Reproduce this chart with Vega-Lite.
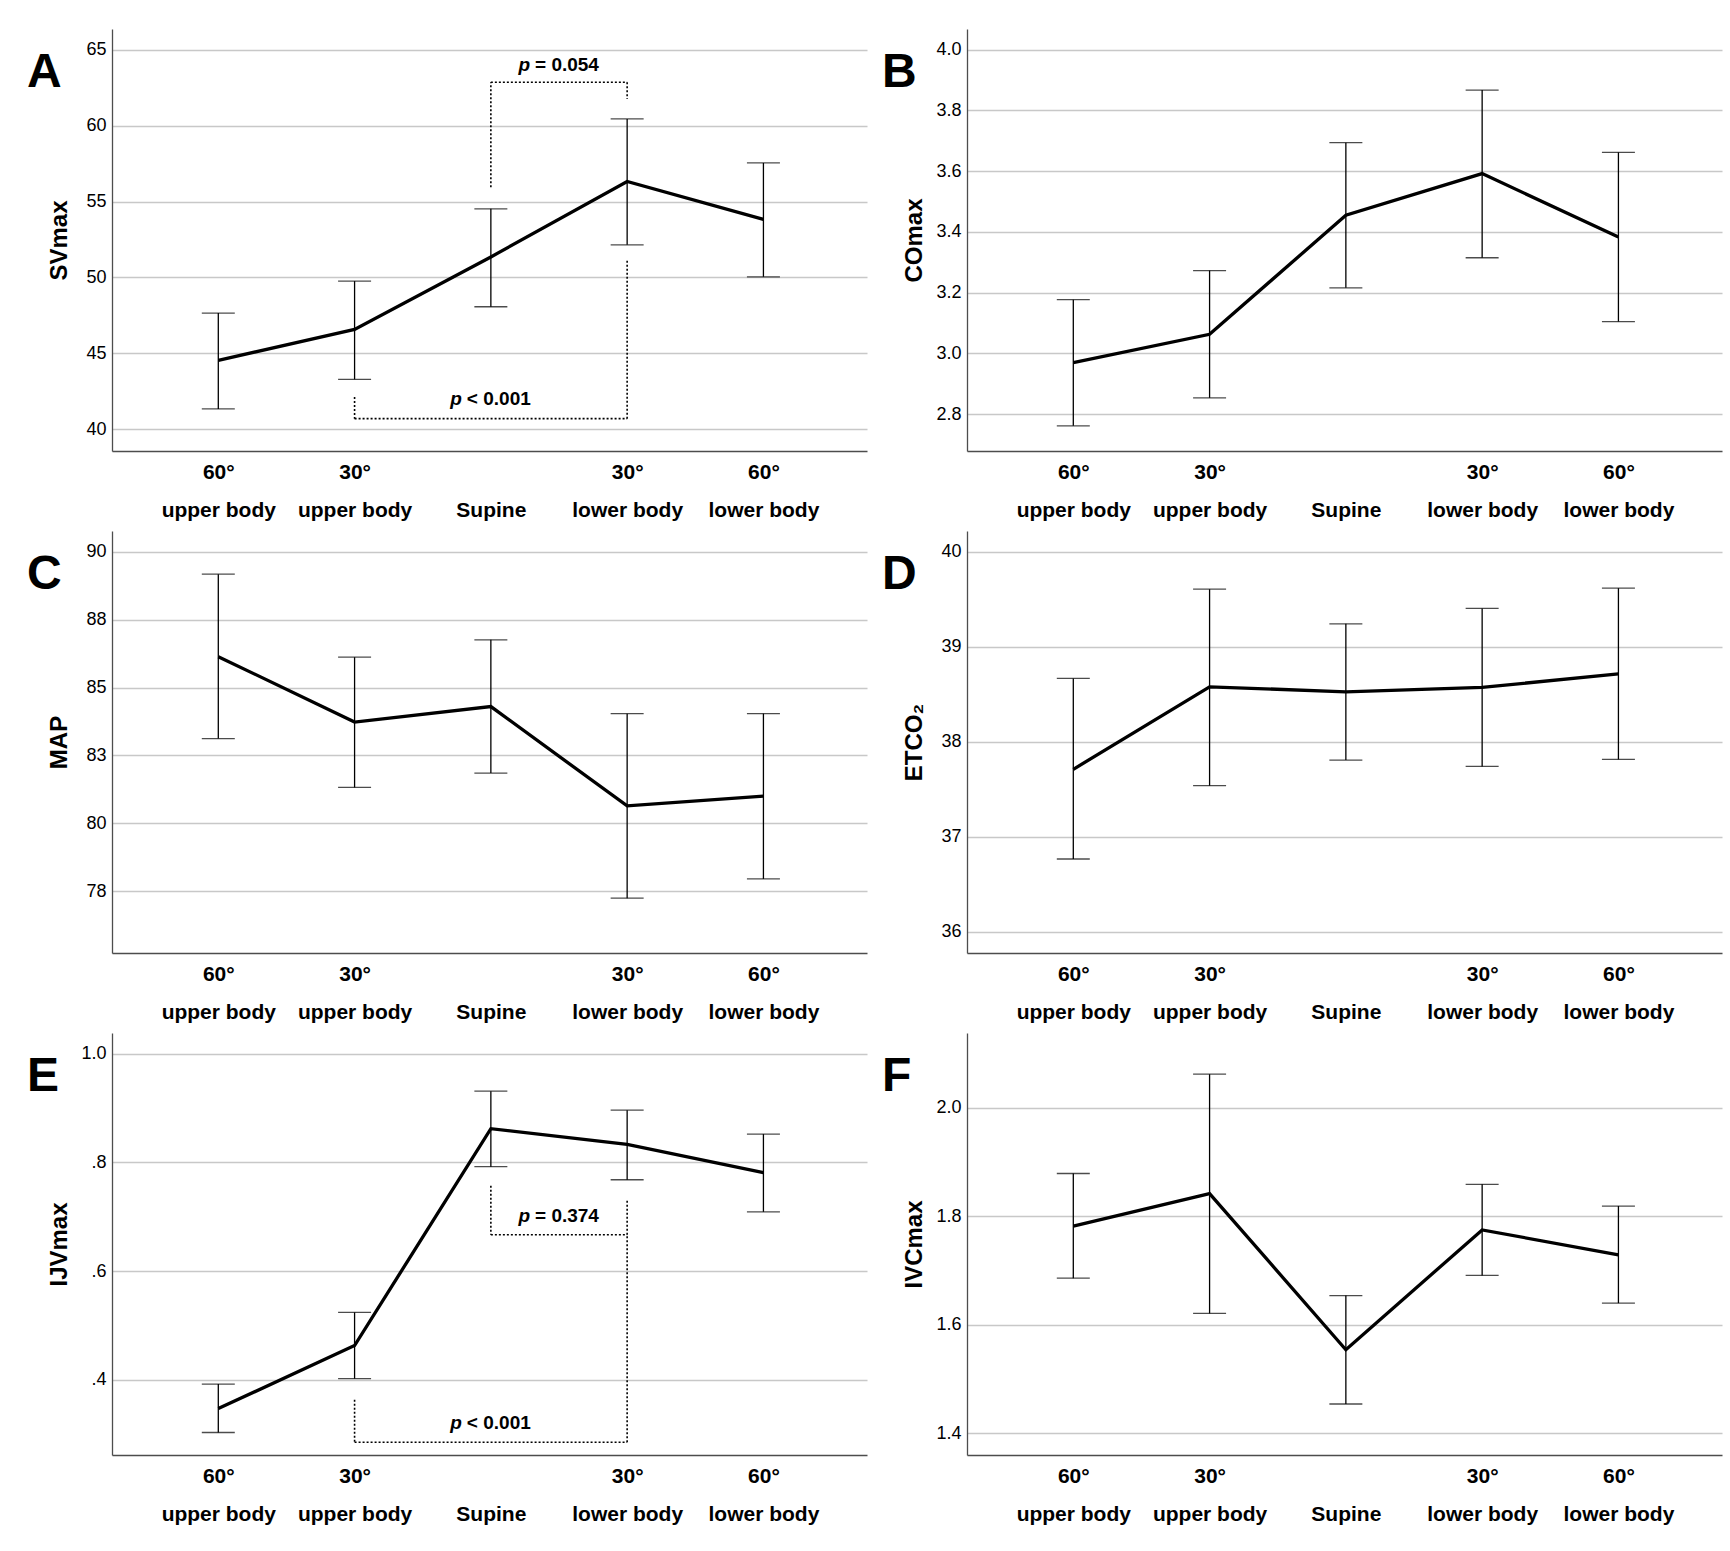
{
"$schema": "https://vega.github.io/schema/vega-lite/v6.json",
"background": "white",
"padding": {"left": 27, "top": 29, "right": 5, "bottom": 5},
"autosize": {"type": "pad"},
"config": {
  "view": {"stroke": null},
  "font": "Liberation Sans",
  "axis": {"domainColor": "#4d4d4d", "domainWidth": 1.3, "ticks": false, "tickSize": 0, "labelColor": "black", "titleColor": "black", "labelFont": "Liberation Sans", "titleFont": "Liberation Sans"},
  "axisY": {"gridColor": "#c8c8c8", "gridWidth": 1.3, "labelFontSize": 18, "labelPadding": 6, "titleFontSize": 24, "titleFontWeight": "bold", "minExtent": 28, "maxExtent": 28, "titlePadding": 13},
  "axisX": {"grid": false, "labelFontSize": 21, "labelFontWeight": "bold", "labelPadding": 10, "labelLineHeight": 38.5, "labelFlush": false, "labelOverlap": false, "labelBound": false},
  "title": {"anchor": "start", "frame": "group", "offset": -68, "dx": -85, "fontSize": 48, "fontWeight": "bold", "baseline": "alphabetic", "color": "black", "font": "Liberation Sans"}
},
"datasets": {
  "pts": [
    {"panel": "A", "pos": 1, "mean": 44.54, "lo": 41.34, "hi": 47.65},
    {"panel": "A", "pos": 2, "mean": 46.58, "lo": 43.29, "hi": 49.76},
    {"panel": "A", "pos": 3, "mean": 51.35, "lo": 48.07, "hi": 54.52},
    {"panel": "A", "pos": 4, "mean": 56.32, "lo": 52.15, "hi": 60.44},
    {"panel": "A", "pos": 5, "mean": 53.82, "lo": 50.04, "hi": 57.54},
    {"panel": "B", "pos": 1, "mean": 2.97, "lo": 2.762, "hi": 3.177},
    {"panel": "B", "pos": 2, "mean": 3.063, "lo": 2.854, "hi": 3.273},
    {"panel": "B", "pos": 3, "mean": 3.455, "lo": 3.216, "hi": 3.694},
    {"panel": "B", "pos": 4, "mean": 3.592, "lo": 3.315, "hi": 3.867},
    {"panel": "B", "pos": 5, "mean": 3.383, "lo": 3.105, "hi": 3.662},
    {"panel": "C", "pos": 1, "mean": 86.14, "lo": 83.12, "hi": 89.18},
    {"panel": "C", "pos": 2, "mean": 83.73, "lo": 81.32, "hi": 86.12},
    {"panel": "C", "pos": 3, "mean": 84.3, "lo": 81.85, "hi": 86.76},
    {"panel": "C", "pos": 4, "mean": 80.64, "lo": 77.24, "hi": 84.04},
    {"panel": "C", "pos": 5, "mean": 81.0, "lo": 77.95, "hi": 84.04},
    {"panel": "D", "pos": 1, "mean": 37.71, "lo": 36.765, "hi": 38.667},
    {"panel": "D", "pos": 2, "mean": 38.579, "lo": 37.537, "hi": 39.607},
    {"panel": "D", "pos": 3, "mean": 38.526, "lo": 37.807, "hi": 39.242},
    {"panel": "D", "pos": 4, "mean": 38.572, "lo": 37.74, "hi": 39.404},
    {"panel": "D", "pos": 5, "mean": 38.716, "lo": 37.814, "hi": 39.618},
    {"panel": "E", "pos": 1, "mean": 0.347, "lo": 0.303, "hi": 0.392},
    {"panel": "E", "pos": 2, "mean": 0.463, "lo": 0.402, "hi": 0.524},
    {"panel": "E", "pos": 3, "mean": 0.862, "lo": 0.792, "hi": 0.931},
    {"panel": "E", "pos": 4, "mean": 0.833, "lo": 0.768, "hi": 0.896},
    {"panel": "E", "pos": 5, "mean": 0.781, "lo": 0.709, "hi": 0.852},
    {"panel": "F", "pos": 1, "mean": 1.782, "lo": 1.686, "hi": 1.879},
    {"panel": "F", "pos": 2, "mean": 1.842, "lo": 1.621, "hi": 2.062},
    {"panel": "F", "pos": 3, "mean": 1.554, "lo": 1.454, "hi": 1.654},
    {"panel": "F", "pos": 4, "mean": 1.775, "lo": 1.691, "hi": 1.859},
    {"panel": "F", "pos": 5, "mean": 1.729, "lo": 1.64, "hi": 1.819}
  ],
  "brk": [
    {"panel": "A", "pos": 3, "pos2": 3, "y": 55.94, "y2": 62.85},
    {"panel": "A", "pos": 3, "pos2": 4, "y": 62.85, "y2": 62.85},
    {"panel": "A", "pos": 4, "pos2": 4, "y": 62.85, "y2": 61.75},
    {"panel": "A", "pos": 2, "pos2": 2, "y": 42.13, "y2": 40.7},
    {"panel": "A", "pos": 2, "pos2": 4, "y": 40.7, "y2": 40.7},
    {"panel": "A", "pos": 4, "pos2": 4, "y": 40.7, "y2": 51.18},
    {"panel": "E", "pos": 3, "pos2": 3, "y": 0.7568, "y2": 0.6667},
    {"panel": "E", "pos": 3, "pos2": 4, "y": 0.6667, "y2": 0.6667},
    {"panel": "E", "pos": 4, "pos2": 4, "y": 0.6667, "y2": 0.7314},
    {"panel": "E", "pos": 2, "pos2": 2, "y": 0.3632, "y2": 0.2851},
    {"panel": "E", "pos": 2, "pos2": 4, "y": 0.2851, "y2": 0.2851},
    {"panel": "E", "pos": 4, "pos2": 4, "y": 0.2851, "y2": 0.6667}
  ],
  "ann": [
    {"panel": "A", "pos": 3.5, "y": 63.99, "rest": "= 0.054"},
    {"panel": "A", "pos": 3, "y": 42.0, "rest": "< 0.001"},
    {"panel": "E", "pos": 3.5, "y": 0.702, "rest": "= 0.374"},
    {"panel": "E", "pos": 3, "y": 0.32, "rest": "< 0.001"}
  ]
},
"columns": 2,
"spacing": {"row": 10, "column": 15},
"concat": [
  {
    "title": {"text": "A"},
    "width": 755, "height": 422,
    "encoding": {"x": {"field": "pos", "type": "quantitative", "title": null, "scale": {"domain": [0.22, 5.76], "nice": false, "zero": false}, "axis": {"values": [1, 2, 3, 4, 5], "labelExpr": "datum.value == 1 ? ['60°', 'upper body'] : datum.value == 2 ? ['30°', 'upper body'] : datum.value == 3 ? ['', 'Supine'] : datum.value == 4 ? ['30°', 'lower body'] : ['60°', 'lower body']"}}},
    "layer": [
      {"data": {"name": "pts"}, "transform": [{"filter": "datum.panel === 'A'"}],
       "mark": {"type": "errorbar", "ticks": true, "size": 33, "thickness": 1.3, "color": "black"},
       "encoding": {"y": {"field": "lo", "type": "quantitative", "title": "SVmax", "scale": {"domain": [38.57, 66.36], "nice": false, "zero": false}, "axis": {"values": [40, 45, 50, 55, 60, 65], "format": "d"}}, "y2": {"field": "hi"}}},
      {"data": {"name": "pts"}, "transform": [{"filter": "datum.panel === 'A'"}],
       "mark": {"type": "line", "color": "black", "strokeWidth": 3.3},
       "encoding": {"y": {"field": "mean", "type": "quantitative", "title": "SVmax", "scale": {"domain": [38.57, 66.36], "nice": false, "zero": false}}}},
      {"data": {"name": "brk"}, "transform": [{"filter": "datum.panel === 'A'"}],
       "mark": {"type": "rule", "color": "black", "strokeWidth": 1.6, "strokeDash": [2, 2]},
       "encoding": {"x2": {"field": "pos2"}, "y": {"field": "y", "type": "quantitative", "title": "SVmax", "scale": {"domain": [38.57, 66.36], "nice": false, "zero": false}}, "y2": {"field": "y2"}}},
      {"data": {"name": "ann"}, "transform": [{"filter": "datum.panel === 'A'"}],
       "mark": {"type": "text", "text": "p", "fontStyle": "italic", "fontWeight": "bold", "fontSize": 19, "align": "right", "baseline": "middle", "dx": -29, "color": "black"},
       "encoding": {"y": {"field": "y", "type": "quantitative", "title": "SVmax", "scale": {"domain": [38.57, 66.36], "nice": false, "zero": false}}}},
      {"data": {"name": "ann"}, "transform": [{"filter": "datum.panel === 'A'"}],
       "mark": {"type": "text", "fontWeight": "bold", "fontSize": 19, "align": "left", "baseline": "middle", "dx": -24, "color": "black"},
       "encoding": {"text": {"field": "rest"}, "y": {"field": "y", "type": "quantitative", "title": "SVmax", "scale": {"domain": [38.57, 66.36], "nice": false, "zero": false}}}}
    ]
  },
  {
    "title": {"text": "B"},
    "width": 755, "height": 422,
    "encoding": {"x": {"field": "pos", "type": "quantitative", "title": null, "scale": {"domain": [0.22, 5.76], "nice": false, "zero": false}, "axis": {"values": [1, 2, 3, 4, 5], "labelExpr": "datum.value == 1 ? ['60°', 'upper body'] : datum.value == 2 ? ['30°', 'upper body'] : datum.value == 3 ? ['', 'Supine'] : datum.value == 4 ? ['30°', 'lower body'] : ['60°', 'lower body']"}}},
    "layer": [
      {"data": {"name": "pts"}, "transform": [{"filter": "datum.panel === 'B'"}],
       "mark": {"type": "errorbar", "ticks": true, "size": 33, "thickness": 1.3, "color": "black"},
       "encoding": {"y": {"field": "lo", "type": "quantitative", "title": "COmax", "scale": {"domain": [2.679, 4.068], "nice": false, "zero": false}, "axis": {"values": [2.8, 3.0, 3.2, 3.4, 3.6, 3.8, 4.0], "format": ".1f"}}, "y2": {"field": "hi"}}},
      {"data": {"name": "pts"}, "transform": [{"filter": "datum.panel === 'B'"}],
       "mark": {"type": "line", "color": "black", "strokeWidth": 3.3},
       "encoding": {"y": {"field": "mean", "type": "quantitative", "title": "COmax", "scale": {"domain": [2.679, 4.068], "nice": false, "zero": false}}}}
    ]
  },
  {
    "title": {"text": "C"},
    "width": 755, "height": 422,
    "encoding": {"x": {"field": "pos", "type": "quantitative", "title": null, "scale": {"domain": [0.22, 5.76], "nice": false, "zero": false}, "axis": {"values": [1, 2, 3, 4, 5], "labelExpr": "datum.value == 1 ? ['60°', 'upper body'] : datum.value == 2 ? ['30°', 'upper body'] : datum.value == 3 ? ['', 'Supine'] : datum.value == 4 ? ['30°', 'lower body'] : ['60°', 'lower body']"}}},
    "layer": [
      {"data": {"name": "pts"}, "transform": [{"filter": "datum.panel === 'C'"}],
       "mark": {"type": "errorbar", "ticks": true, "size": 33, "thickness": 1.3, "color": "black"},
       "encoding": {"y": {"field": "lo", "type": "quantitative", "title": "MAP", "scale": {"domain": [75.22, 90.77], "nice": false, "zero": false}, "axis": {"values": [77.5, 80, 82.5, 85, 87.5, 90], "labelExpr": "round(datum.value)"}}, "y2": {"field": "hi"}}},
      {"data": {"name": "pts"}, "transform": [{"filter": "datum.panel === 'C'"}],
       "mark": {"type": "line", "color": "black", "strokeWidth": 3.3},
       "encoding": {"y": {"field": "mean", "type": "quantitative", "title": "MAP", "scale": {"domain": [75.22, 90.77], "nice": false, "zero": false}}}}
    ]
  },
  {
    "title": {"text": "D"},
    "width": 755, "height": 422,
    "encoding": {"x": {"field": "pos", "type": "quantitative", "title": null, "scale": {"domain": [0.22, 5.76], "nice": false, "zero": false}, "axis": {"values": [1, 2, 3, 4, 5], "labelExpr": "datum.value == 1 ? ['60°', 'upper body'] : datum.value == 2 ? ['30°', 'upper body'] : datum.value == 3 ? ['', 'Supine'] : datum.value == 4 ? ['30°', 'lower body'] : ['60°', 'lower body']"}}},
    "layer": [
      {"data": {"name": "pts"}, "transform": [{"filter": "datum.panel === 'D'"}],
       "mark": {"type": "errorbar", "ticks": true, "size": 33, "thickness": 1.3, "color": "black"},
       "encoding": {"y": {"field": "lo", "type": "quantitative", "title": "ETCO₂", "scale": {"domain": [35.775, 40.22], "nice": false, "zero": false}, "axis": {"values": [36, 37, 38, 39, 40], "format": "d"}}, "y2": {"field": "hi"}}},
      {"data": {"name": "pts"}, "transform": [{"filter": "datum.panel === 'D'"}],
       "mark": {"type": "line", "color": "black", "strokeWidth": 3.3},
       "encoding": {"y": {"field": "mean", "type": "quantitative", "title": "ETCO₂", "scale": {"domain": [35.775, 40.22], "nice": false, "zero": false}}}}
    ]
  },
  {
    "title": {"text": "E"},
    "width": 755, "height": 422,
    "encoding": {"x": {"field": "pos", "type": "quantitative", "title": null, "scale": {"domain": [0.22, 5.76], "nice": false, "zero": false}, "axis": {"values": [1, 2, 3, 4, 5], "labelExpr": "datum.value == 1 ? ['60°', 'upper body'] : datum.value == 2 ? ['30°', 'upper body'] : datum.value == 3 ? ['', 'Supine'] : datum.value == 4 ? ['30°', 'lower body'] : ['60°', 'lower body']"}}},
    "layer": [
      {"data": {"name": "pts"}, "transform": [{"filter": "datum.panel === 'E'"}],
       "mark": {"type": "errorbar", "ticks": true, "size": 33, "thickness": 1.3, "color": "black"},
       "encoding": {"y": {"field": "lo", "type": "quantitative", "title": "IJVmax", "scale": {"domain": [0.2616, 1.038], "nice": false, "zero": false}, "axis": {"values": [0.4, 0.6, 0.8, 1.0], "labelExpr": "datum.value >= 0.99 ? '1.0' : replace(format(datum.value, '.1f'), '0.', '.')"}}, "y2": {"field": "hi"}}},
      {"data": {"name": "pts"}, "transform": [{"filter": "datum.panel === 'E'"}],
       "mark": {"type": "line", "color": "black", "strokeWidth": 3.3},
       "encoding": {"y": {"field": "mean", "type": "quantitative", "title": "IJVmax", "scale": {"domain": [0.2616, 1.038], "nice": false, "zero": false}}}},
      {"data": {"name": "brk"}, "transform": [{"filter": "datum.panel === 'E'"}],
       "mark": {"type": "rule", "color": "black", "strokeWidth": 1.6, "strokeDash": [2, 2]},
       "encoding": {"x2": {"field": "pos2"}, "y": {"field": "y", "type": "quantitative", "title": "IJVmax", "scale": {"domain": [0.2616, 1.038], "nice": false, "zero": false}}, "y2": {"field": "y2"}}},
      {"data": {"name": "ann"}, "transform": [{"filter": "datum.panel === 'E'"}],
       "mark": {"type": "text", "text": "p", "fontStyle": "italic", "fontWeight": "bold", "fontSize": 19, "align": "right", "baseline": "middle", "dx": -29, "color": "black"},
       "encoding": {"y": {"field": "y", "type": "quantitative", "title": "IJVmax", "scale": {"domain": [0.2616, 1.038], "nice": false, "zero": false}}}},
      {"data": {"name": "ann"}, "transform": [{"filter": "datum.panel === 'E'"}],
       "mark": {"type": "text", "fontWeight": "bold", "fontSize": 19, "align": "left", "baseline": "middle", "dx": -24, "color": "black"},
       "encoding": {"text": {"field": "rest"}, "y": {"field": "y", "type": "quantitative", "title": "IJVmax", "scale": {"domain": [0.2616, 1.038], "nice": false, "zero": false}}}}
    ]
  },
  {
    "title": {"text": "F"},
    "width": 755, "height": 422,
    "encoding": {"x": {"field": "pos", "type": "quantitative", "title": null, "scale": {"domain": [0.22, 5.76], "nice": false, "zero": false}, "axis": {"values": [1, 2, 3, 4, 5], "labelExpr": "datum.value == 1 ? ['60°', 'upper body'] : datum.value == 2 ? ['30°', 'upper body'] : datum.value == 3 ? ['', 'Supine'] : datum.value == 4 ? ['30°', 'lower body'] : ['60°', 'lower body']"}}},
    "layer": [
      {"data": {"name": "pts"}, "transform": [{"filter": "datum.panel === 'F'"}],
       "mark": {"type": "errorbar", "ticks": true, "size": 33, "thickness": 1.3, "color": "black"},
       "encoding": {"y": {"field": "lo", "type": "quantitative", "title": "IVCmax", "scale": {"domain": [1.36, 2.138], "nice": false, "zero": false}, "axis": {"values": [1.4, 1.6, 1.8, 2.0], "format": ".1f"}}, "y2": {"field": "hi"}}},
      {"data": {"name": "pts"}, "transform": [{"filter": "datum.panel === 'F'"}],
       "mark": {"type": "line", "color": "black", "strokeWidth": 3.3},
       "encoding": {"y": {"field": "mean", "type": "quantitative", "title": "IVCmax", "scale": {"domain": [1.36, 2.138], "nice": false, "zero": false}}}}
    ]
  }
]
}
